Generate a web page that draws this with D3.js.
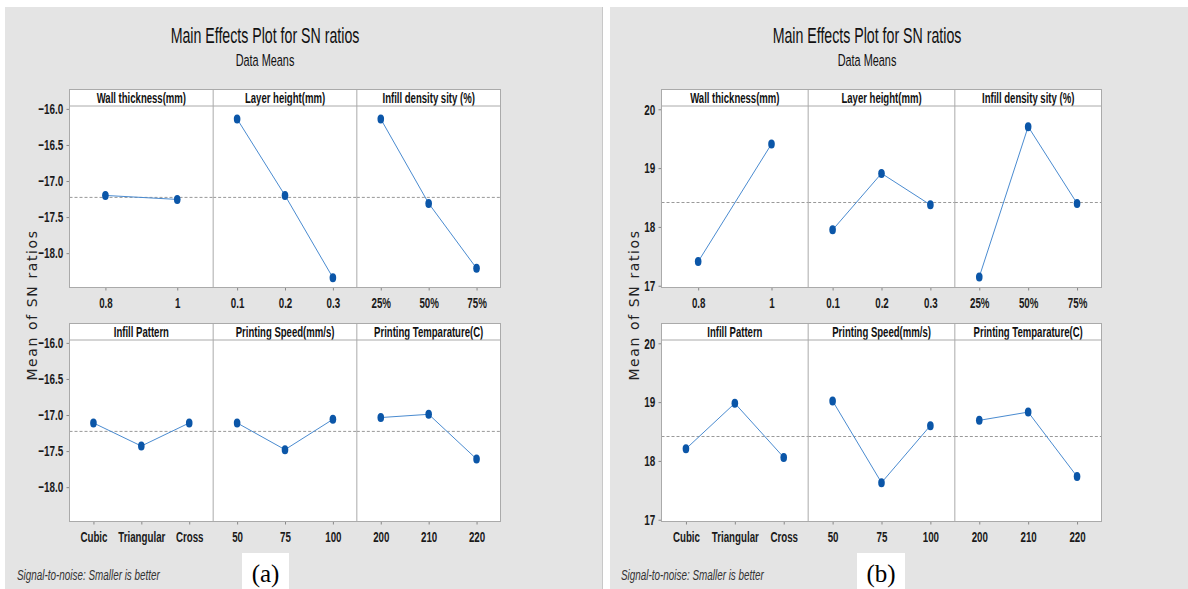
<!DOCTYPE html>
<html>
<head>
<meta charset="utf-8">
<script src="https://cdn.jsdelivr.net/npm/d3@7"></script>
<style>
  body { margin: 0; background: #fff; }
  svg { display: block; }
  .narrow { font-family: "Liberation Sans", Arial, sans-serif; }
</style>
</head>
<body>
<div id="chart"></div>
<script>
// factor names and levels (shared by both plots)
const factors = ["Wall thickness(mm)", "Layer height(mm)", "Infill density sity (%)",
  "Infill Pattern", "Printing Speed(mm/s)", "Printing Temparature(C)"]
const levels = [["0.8", "1"], ["0.1", "0.2", "0.3"], ["25%", "50%", "75%"],
  ["Cubic", "Triangular", "Cross"], ["50", "75", "100"], ["200", "210", "220"]]

// (a) mean of SN ratios
const snA = [[-17.20, -17.255], [-16.14, -17.20, -18.34], [-16.14, -17.31, -18.21],
  [-17.11, -17.43, -17.11], [-17.11, -17.48, -17.06], [-17.035, -16.99, -17.61]]
const meanA = -17.227
const ticksA = [-16.0, -16.5, -17.0, -17.5, -18.0]

// (b) mean of SN ratios
const snB = [[17.41, 19.41], [17.95, 18.91, 18.375], [17.15, 19.705, 18.40],
  [18.205, 18.98, 18.06], [19.02, 17.63, 18.60], [18.69, 18.83, 17.735]]
const meanB = 18.415
const ticksB = [17, 18, 19, 20]

let svg = d3.select("#chart").append("svg")
  .attr("width", 1188)
  .attr("height", 589)

// gray backgrounds
svg.append("rect").attr("x", 5).attr("y", 7).attr("width", 597).attr("height", 582).attr("fill", "#e4e4e4")
svg.append("line").attr("x1", 602.5).attr("x2", 602.5).attr("y1", 7).attr("y2", 589).attr("stroke", "#c8c8c8")
svg.append("rect").attr("x", 610).attr("y", 7).attr("width", 578).attr("height", 582).attr("fill", "#e4e4e4")

// rows: strip top, plot top, plot bottom
const rows = [
  { stripTop: 89.5, top: 106, bottom: 287.5 },
  { stripTop: 323.5, top: 340, bottom: 521.5 }
]

// the original uses a condensed font, so Liberation Sans is squeezed horizontally
function ntext(g, x, y, str, size, sx) {
  return g.append("text").attr("class", "narrow")
    .attr("transform", `translate(${x},${y}) scale(${sx},1)`)
    .attr("font-size", size + "px").attr("fill", "#111")
    .text(str)
}

function drawPlot(cfg) {
  let g = svg.append("g")
  let left = cfg.left, right = cfg.right
  let pw = (right - left) / 3

  // title
  ntext(g, cfg.cx, 43, "Main Effects Plot for SN ratios", 22.5, 0.63).attr("text-anchor", "middle")
  ntext(g, cfg.cx, 66, "Data Means", 16.5, 0.66).attr("text-anchor", "middle")

  // y label
  g.append("text")
    .attr("transform", `translate(${cfg.ylabX},305) rotate(-90)`)
    .attr("text-anchor", "middle")
    .attr("font-family", "DejaVu Sans, sans-serif")
    .attr("font-size", "14px").attr("letter-spacing", "1.6px").attr("fill", "#222")
    .text("Mean of SN ratios")

  rows.forEach(function (row, r) {
    let y = d3.scaleLinear().domain(cfg.domain).range([row.bottom, row.top])

    // plot area
    g.append("rect").attr("x", left).attr("y", row.stripTop)
      .attr("width", right - left).attr("height", row.bottom - row.stripTop)
      .attr("fill", "#fff")

    // y axis
    let gy = g.append("g").attr("transform", `translate(${left},0)`)
      .call(d3.axisLeft(y).tickValues(cfg.ticks).tickSize(3).tickFormat(cfg.fmt))
    gy.select(".domain").remove()
    gy.selectAll("line").attr("stroke", "#888")
    gy.selectAll("text").attr("class", "narrow").attr("font-size", "15px")
      .attr("font-weight", "bold").attr("fill", "#1a1a1a")
      .attr("x", -9.5).attr("transform", "scale(0.66,1)")

    for (let p = 0; p < 3; p++) {
      let i = r * 3 + p
      let x0 = left + p * pw
      let x = d3.scalePoint().domain(levels[i]).range([x0, x0 + pw]).padding(0.5)

      // strip label
      ntext(g, x0 + pw / 2, row.stripTop + 13.5, factors[i], 14.5, 0.66)
        .attr("text-anchor", "middle").attr("font-weight", "bold")

      // x axis
      let gx = g.append("g").attr("transform", `translate(0,${row.bottom})`)
        .call(d3.axisBottom(x).tickSize(3).tickPadding(7))
      gx.select(".domain").remove()
      gx.selectAll("line").attr("stroke", "#888")
      gx.selectAll("text").attr("class", "narrow").attr("font-size", "15px")
        .attr("font-weight", "bold").attr("fill", "#1a1a1a")
        .attr("transform", "scale(0.65,1)")

      // mean reference line
      g.append("line")
        .attr("x1", x0).attr("x2", x0 + pw)
        .attr("y1", y(cfg.mean)).attr("y2", y(cfg.mean))
        .attr("stroke", "#999").attr("stroke-dasharray", "3,2")

      let pts = levels[i].map(function (l, k) {
        return { lev: l, v: cfg.sn[i][k] }
      })

      // effect line
      g.append("path").datum(pts)
        .attr("fill", "none").attr("stroke", "#4a8bd0").attr("stroke-width", 1)
        .attr("d", d3.line().x(function (d) { return x(d.lev) }).y(function (d) { return y(d.v) }))

      // markers
      g.selectAll(null).data(pts).enter().append("ellipse")
        .attr("cx", function (d) { return x(d.lev) })
        .attr("cy", function (d) { return y(d.v) })
        .attr("rx", 3.3).attr("ry", 4.5)
        .attr("fill", "#0b56a8")

      // panel divider
      if (p > 0) {
        g.append("line").attr("x1", x0).attr("x2", x0)
          .attr("y1", row.stripTop).attr("y2", row.bottom)
          .attr("stroke", "#aaa")
      }
    }

    // strip bottom line and frame
    g.append("line").attr("x1", left).attr("x2", right)
      .attr("y1", row.top).attr("y2", row.top).attr("stroke", "#aaa")
    g.append("rect").attr("x", left).attr("y", row.stripTop)
      .attr("width", right - left).attr("height", row.bottom - row.stripTop)
      .attr("fill", "none").attr("stroke", "#aaa")
  })

  // footnote
  ntext(g, cfg.noteX, 580, "Signal-to-noise: Smaller is better", 15, 0.66)
    .attr("font-style", "italic").attr("fill", "#333")

  // panel tag
  g.append("rect").attr("x", cfg.tag[0]).attr("y", 553)
    .attr("width", cfg.tag[1] - cfg.tag[0]).attr("height", 36).attr("fill", "#fff")
  g.append("text")
    .attr("x", (cfg.tag[0] + cfg.tag[1]) / 2).attr("y", 582)
    .attr("text-anchor", "middle").attr("font-family", "Liberation Serif, serif")
    .attr("font-size", "25px").attr("fill", "#000")
    .text(cfg.label)
}

drawPlot({
  left: 69.5, right: 500.5, cx: 265, ylabX: 37, noteX: 17,
  domain: [-18.476, -15.96], ticks: ticksA, fmt: d3.format(".1f"),
  sn: snA, mean: meanA, tag: [242, 289], label: "(a)"
})

drawPlot({
  left: 661.5, right: 1101.5, cx: 867, ylabX: 639, noteX: 621,
  domain: [16.97, 20.056], ticks: ticksB, fmt: d3.format("d"),
  sn: snB, mean: meanB, tag: [857, 905], label: "(b)"
})
</script>
</body>
</html>
